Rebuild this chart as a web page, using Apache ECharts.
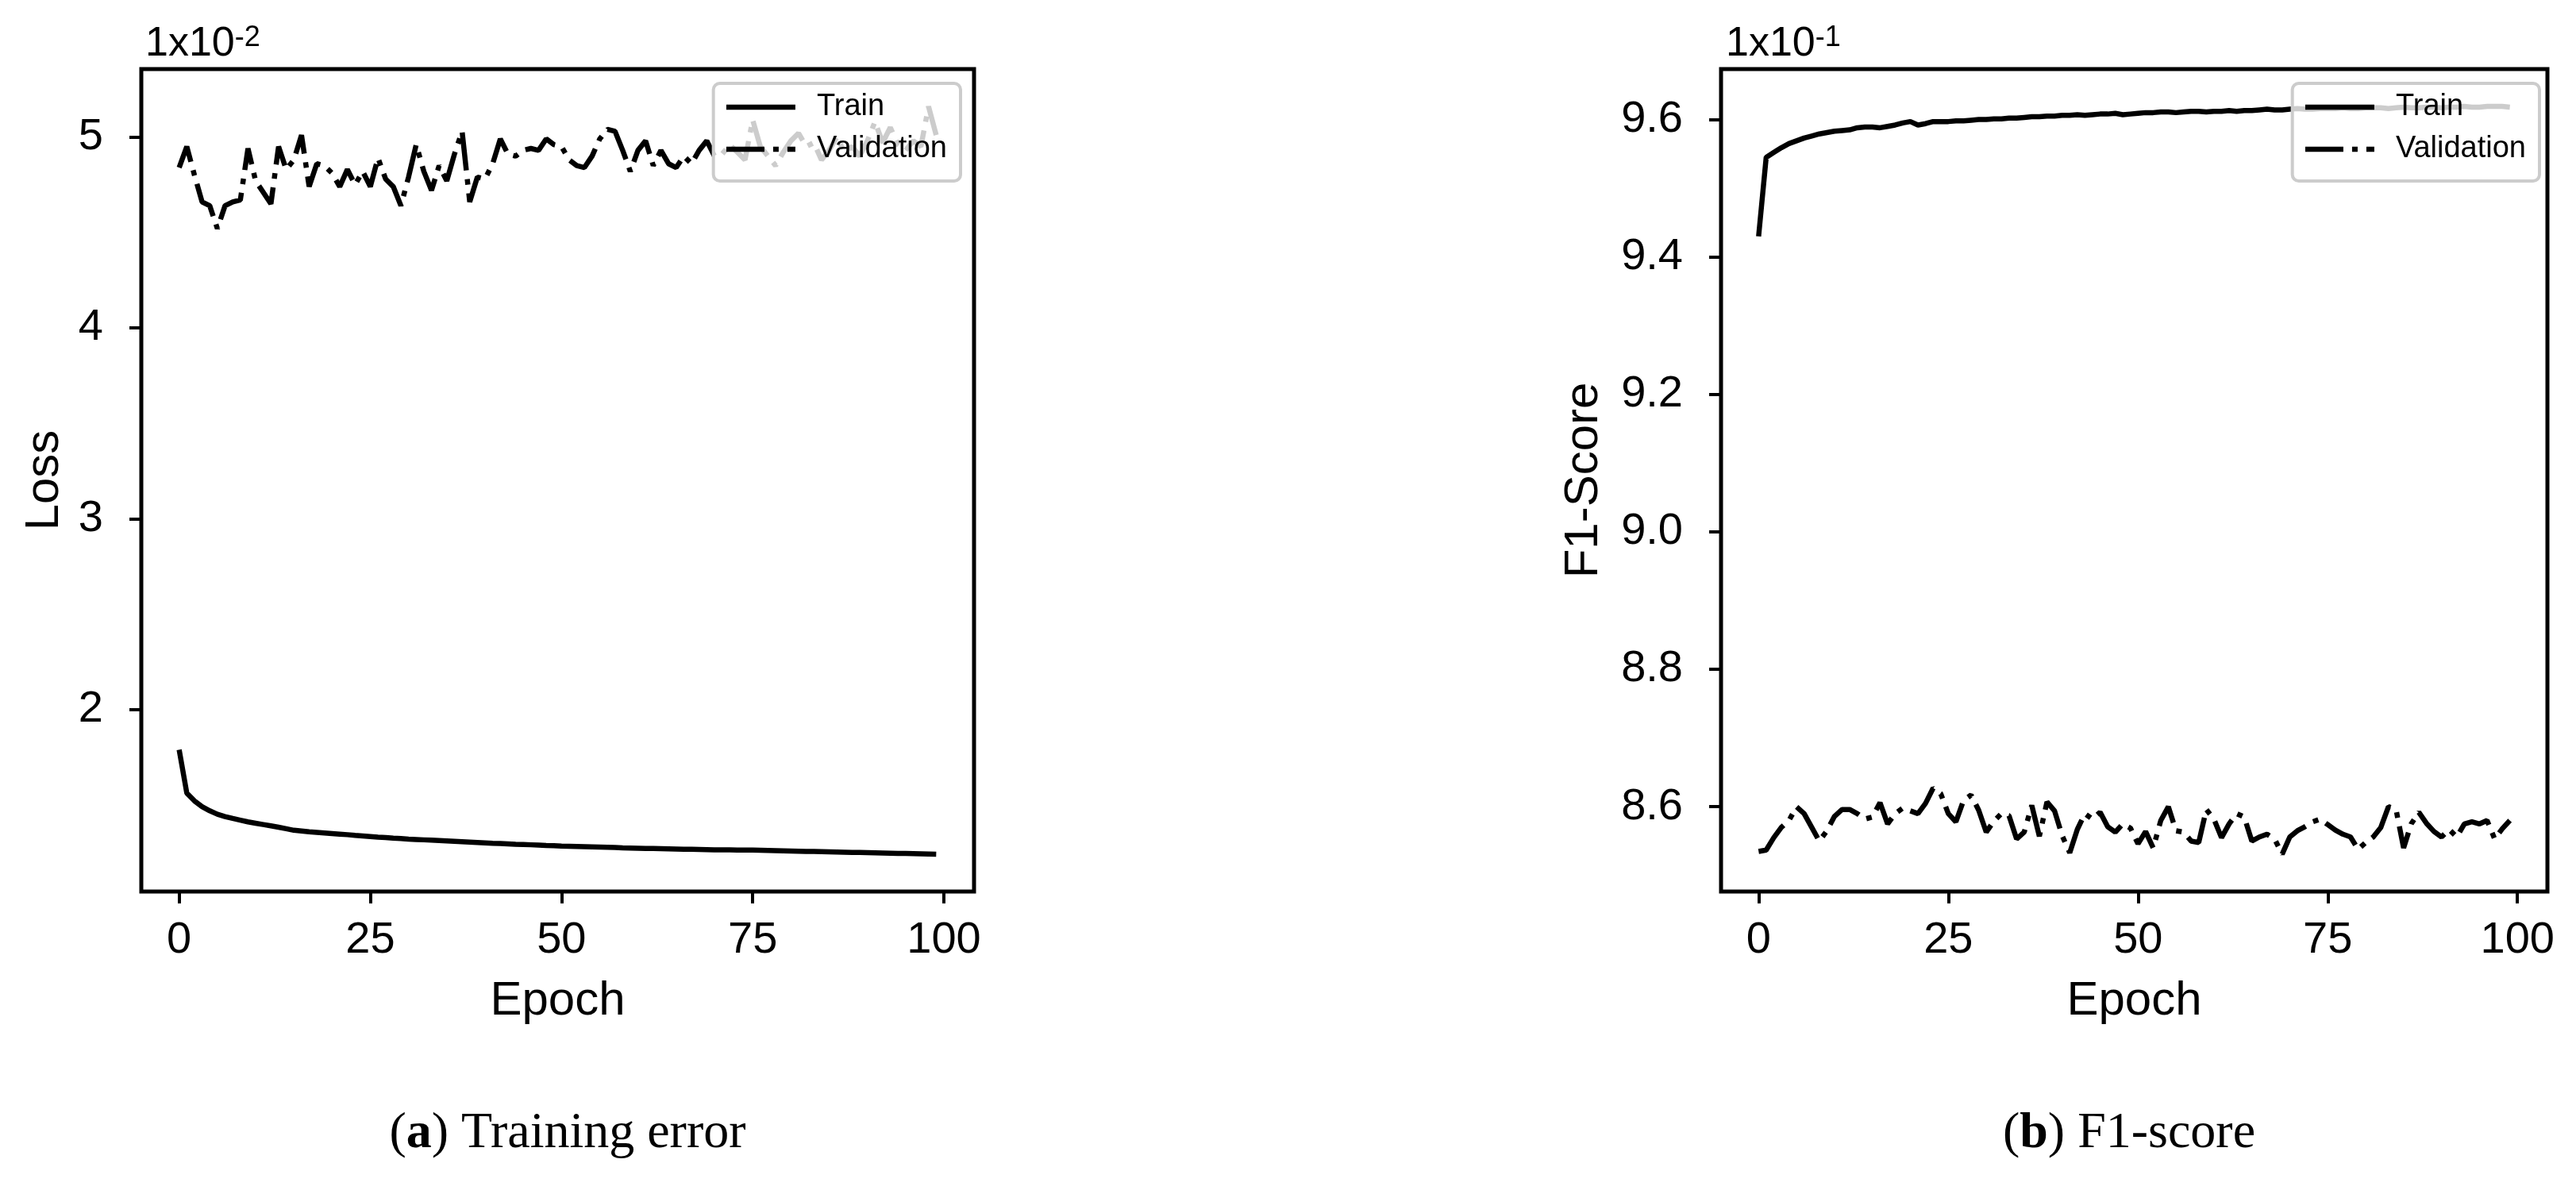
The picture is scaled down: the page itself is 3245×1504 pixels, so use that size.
<!DOCTYPE html>
<html>
<head>
<meta charset="utf-8">
<script src="https://cdn.jsdelivr.net/npm/echarts@6/dist/echarts.min.js"></script>
<style>
  html, body { margin: 0; padding: 0; background: #fff; }
  #chart { width: 3245px; height: 1504px; }
</style>
</head>
<body>
<div id="chart"></div>
<script>
// loss values are in units of 1e-2, F1 values in units of 1e-1 (as on the axes)
const lossTrain = [1.790, 1.563, 1.522, 1.492, 1.470, 1.452, 1.440, 1.430, 1.421, 1.412,
  1.405, 1.398, 1.391, 1.384, 1.376, 1.368, 1.364, 1.360, 1.357, 1.354,
  1.351, 1.348, 1.345, 1.341, 1.338, 1.335, 1.332, 1.330, 1.327, 1.325,
  1.322, 1.320, 1.318, 1.316, 1.314, 1.312, 1.310, 1.308, 1.306, 1.304,
  1.302, 1.300, 1.299, 1.297, 1.295, 1.294, 1.292, 1.290, 1.288, 1.287,
  1.285, 1.284, 1.283, 1.282, 1.281, 1.280, 1.279, 1.278, 1.276, 1.275,
  1.274, 1.273, 1.273, 1.272, 1.271, 1.270, 1.269, 1.269, 1.268, 1.267,
  1.266, 1.266, 1.265, 1.264, 1.264, 1.264, 1.263, 1.262, 1.261, 1.260,
  1.259, 1.258, 1.257, 1.257, 1.256, 1.255, 1.254, 1.253, 1.252, 1.252,
  1.251, 1.250, 1.249, 1.248, 1.247, 1.247, 1.246, 1.245, 1.244, 1.243]
const lossVal = [4.84, 4.95, 4.80, 4.66, 4.64, 4.52, 4.64, 4.66, 4.67, 4.94,
  4.77, 4.71, 4.65, 4.95, 4.83, 4.88, 5.01, 4.74, 4.86, 4.85,
  4.81, 4.74, 4.83, 4.75, 4.82, 4.74, 4.89, 4.78, 4.74, 4.64,
  4.79, 4.96, 4.82, 4.72, 4.85, 4.77, 4.91, 5.03, 4.66, 4.79,
  4.78, 4.86, 4.99, 4.91, 4.90, 4.93, 4.94, 4.93, 4.99, 4.96,
  4.95, 4.88, 4.85, 4.84, 4.90, 4.99, 5.04, 5.03, 4.93, 4.82,
  4.93, 4.98, 4.85, 4.93, 4.86, 4.84, 4.90, 4.86, 4.93, 4.98,
  4.90, 4.91, 4.96, 4.92, 4.88, 5.09, 4.95, 4.90, 4.85, 4.92,
  4.98, 5.02, 4.95, 4.97, 4.88, 4.93, 5.00, 4.92, 4.95, 4.90,
  4.98, 5.08, 4.97, 5.05, 4.96, 4.93, 4.98, 4.95, 5.16, 5.01]
const f1Train = [9.430, 9.545, 9.552, 9.559, 9.565, 9.569, 9.573, 9.576, 9.579, 9.581,
  9.583, 9.584, 9.585, 9.588, 9.589, 9.589, 9.588, 9.590, 9.592, 9.595,
  9.597, 9.592, 9.594, 9.597, 9.597, 9.597, 9.598, 9.598, 9.599, 9.600,
  9.600, 9.601, 9.601, 9.602, 9.602, 9.603, 9.604, 9.604, 9.605, 9.605,
  9.606, 9.606, 9.607, 9.606, 9.607, 9.608, 9.608, 9.609, 9.607, 9.608,
  9.609, 9.610, 9.610, 9.611, 9.611, 9.610, 9.611, 9.612, 9.612, 9.611,
  9.612, 9.612, 9.613, 9.612, 9.613, 9.613, 9.614, 9.615, 9.614, 9.614,
  9.615, 9.616, 9.615, 9.615, 9.616, 9.616, 9.616, 9.617, 9.616, 9.616,
  9.617, 9.617, 9.617, 9.616, 9.617, 9.618, 9.617, 9.617, 9.618, 9.618,
  9.617, 9.618, 9.618, 9.619, 9.618, 9.618, 9.619, 9.619, 9.619, 9.618]
const f1Val = [8.535, 8.537, 8.555, 8.570, 8.580, 8.600, 8.590, 8.570, 8.550, 8.565,
  8.586, 8.596, 8.596, 8.590, 8.582, 8.585, 8.606, 8.575, 8.590, 8.598,
  8.594, 8.590, 8.605, 8.627, 8.619, 8.590, 8.578, 8.609, 8.617, 8.595,
  8.563, 8.579, 8.590, 8.587, 8.553, 8.563, 8.602, 8.557, 8.607, 8.594,
  8.558, 8.533, 8.567, 8.590, 8.582, 8.592, 8.571, 8.563, 8.575, 8.569,
  8.546, 8.564, 8.540, 8.580, 8.600, 8.565, 8.563, 8.550, 8.548, 8.596,
  8.582, 8.555, 8.575, 8.590, 8.585, 8.550, 8.556, 8.560, 8.553, 8.531,
  8.556, 8.565, 8.571, 8.578, 8.582, 8.574, 8.566, 8.560, 8.556, 8.538,
  8.548, 8.556, 8.570, 8.600, 8.596, 8.540, 8.575, 8.592, 8.576, 8.564,
  8.556, 8.567, 8.556, 8.575, 8.578, 8.575, 8.580, 8.553, 8.568, 8.580]

const epochTicks = [0, 25, 50, 75, 100]
const lossTicks = [2, 3, 4, 5]
const f1Ticks = [8.6, 8.8, 9.0, 9.2, 9.4, 9.6]

const sans = 'Liberation Sans'
const serif = 'Liberation Serif'
const dashDot = [48, 11, 7, 11]
const lw = 6.5

// matplotlib-like autoscale: 5% margin on each side
function padRange(arrs) {
  const all = [].concat(...arrs)
  const lo = Math.min(...all)
  const hi = Math.max(...all)
  const m = (hi - lo) * 0.05
  return [lo - m, hi + m]
}
const xRange = padRange([[0, lossTrain.length - 1]])
const lossRange = padRange([lossTrain, lossVal])
const f1Range = padRange([f1Train, f1Val])

const pairs = arr => arr.map((v, i) => [i, v])

function xAxisOf(gridIndex) {
  return {
    type: 'value',
    gridIndex,
    min: xRange[0],
    max: xRange[1],
    axisLine: { show: false, onZero: false },
    axisTick: { show: true, length: 15, lineStyle: { color: '#000', width: 4 }, customValues: epochTicks },
    axisLabel: { customValues: epochTicks, fontSize: 56, color: '#000', fontFamily: sans, margin: 34 },
    splitLine: { show: false },
    name: 'Epoch',
    nameLocation: 'middle',
    nameGap: 108,
    nameTextStyle: { fontSize: 60, color: '#000', fontFamily: sans }
  }
}

function yAxisOf(gridIndex, range, ticks, name, gap, fmt) {
  return {
    type: 'value',
    gridIndex,
    min: range[0],
    max: range[1],
    axisLine: { show: false, onZero: false },
    axisTick: { show: true, length: 15, lineStyle: { color: '#000', width: 4 }, customValues: ticks },
    axisLabel: { customValues: ticks, fontSize: 56, color: '#000', fontFamily: sans, margin: 48, formatter: fmt },
    splitLine: { show: false },
    name,
    nameLocation: 'middle',
    nameGap: gap,
    nameTextStyle: { fontSize: 60, color: '#000', fontFamily: sans }
  }
}

function legendOf(right) {
  return {
    data: ['Train', 'Validation'],
    orient: 'vertical',
    right,
    top: 105,
    itemWidth: 87,
    itemHeight: 14,
    itemGap: 15,
    padding: [11, 17, 21, 13],
    backgroundColor: 'rgba(255,255,255,0.8)',
    borderColor: '#cccccc',
    borderWidth: 4,
    borderRadius: 8,
    selectedMode: false,
    // hide the marker that the line icon puts in its middle
    itemStyle: { opacity: 0, color: 'rgba(0,0,0,0)', borderWidth: 0 },
    lineStyle: { width: lw },
    textStyle: { fontSize: 38, color: '#000', fontFamily: sans, padding: [0, 0, 0, 22] }
  }
}

function lineSeries(name, data, xi, dash) {
  return {
    type: 'line',
    name,
    xAxisIndex: xi,
    yAxisIndex: xi,
    data: pairs(data),
    symbol: 'none',
    lineStyle: { color: '#000', width: lw, type: dash || 'solid', cap: 'butt' },
    itemStyle: { color: '#000' },
    z: 2
  }
}

const chart = echarts.init(document.getElementById('chart'))
chart.setOption({
  animation: false,
  backgroundColor: '#fff',
  grid: [
    { left: 178, top: 87, width: 1049, height: 1036, show: true, borderColor: '#000', borderWidth: 5, backgroundColor: 'transparent' },
    { left: 2168, top: 87, width: 1041, height: 1036, show: true, borderColor: '#000', borderWidth: 5, backgroundColor: 'transparent' }
  ],
  xAxis: [xAxisOf(0), xAxisOf(1)],
  yAxis: [
    yAxisOf(0, lossRange, lossTicks, 'Loss', 92, v => String(v)),
    yAxisOf(1, f1Range, f1Ticks, 'F1-Score', 143, v => v.toFixed(1))
  ],
  legend: [legendOf(3245 - 1210), legendOf(3245 - 3199)],
  series: [
    lineSeries('Train', lossTrain, 0),
    lineSeries('Validation', lossVal, 0, dashDot),
    lineSeries('Train', f1Train, 1),
    lineSeries('Validation', f1Val, 1, dashDot)
  ],
  graphic: [
    {
      type: 'text', left: 183, top: 30,
      style: {
        text: '{n|1x10}{e|-2}',
        rich: {
          n: { fontSize: 52, fontFamily: sans, fill: '#000' },
          e: { fontSize: 36, fontFamily: sans, fill: '#000', verticalAlign: 'top' }
        }
      }
    },
    {
      type: 'text', left: 2174, top: 30,
      style: {
        text: '{n|1x10}{e|-1}',
        rich: {
          n: { fontSize: 52, fontFamily: sans, fill: '#000' },
          e: { fontSize: 36, fontFamily: sans, fill: '#000', verticalAlign: 'top' }
        }
      }
    },
    {
      type: 'text', x: 715, y: 1428,
      style: {
        text: '{p|(}{b|a}{p|) Training error}',
        align: 'center', verticalAlign: 'middle',
        rich: {
          p: { fontSize: 64, fontFamily: serif, fill: '#000' },
          b: { fontSize: 64, fontFamily: serif, fontWeight: 'bold', fill: '#000' }
        }
      }
    },
    {
      type: 'text', x: 2682, y: 1428,
      style: {
        text: '{p|(}{b|b}{p|) F1-score}',
        align: 'center', verticalAlign: 'middle',
        rich: {
          p: { fontSize: 64, fontFamily: serif, fill: '#000' },
          b: { fontSize: 64, fontFamily: serif, fontWeight: 'bold', fill: '#000' }
        }
      }
    }
  ]
})
</script>
</body>
</html>
